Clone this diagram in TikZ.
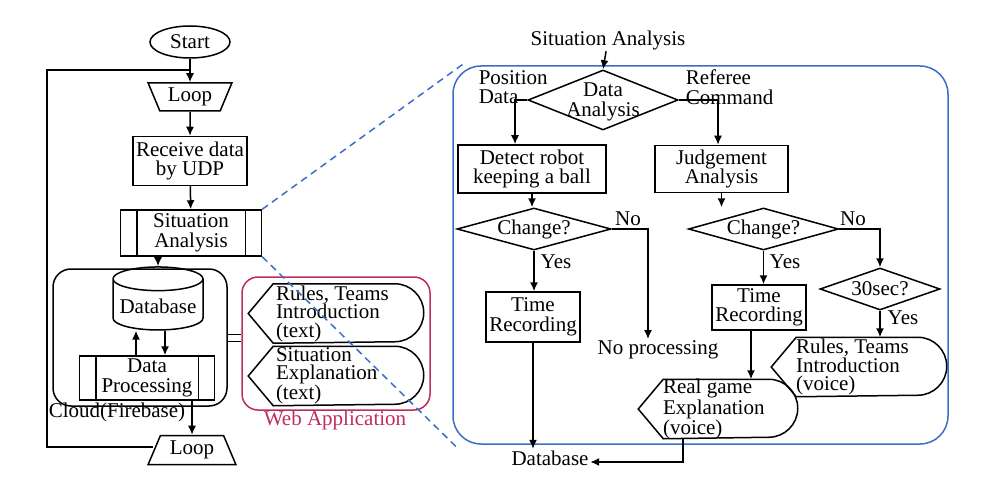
\documentclass[tikz,border=0pt]{standalone}
\usepackage{fontspec}
\setmainfont{Liberation Serif}
\usetikzlibrary{shapes.geometric,arrows.meta}
\definecolor{webc}{RGB}{190,45,95}
\definecolor{bluec}{RGB}{60,110,200}
\begin{document}
\begin{tikzpicture}[x=1pt,y=-1pt,line width=1.5pt,
  every node/.style={font=\fontsize{21}{19.5}\selectfont,inner sep=1pt},
  box/.style={draw,align=center,minimum width=#1},
  dia/.style={draw,diamond,aspect=3.6,inner sep=0pt},
  trap/.style={draw,trapezium,trapezium stretches=true,trapezium angle=66,minimum height=28,minimum width=84},
  arr/.style={-{Latex[length=9pt,width=8pt]}},
  dtxt/.style={anchor=west,align=left,font=\fontsize{21}{18.5}\selectfont}]
\useasboundingbox (0,0) rectangle (988,492);
% left column
\node[draw,ellipse,minimum width=80,minimum height=32] (start) at (190,42) {Start};
\node[trap,shape border rotate=180] (loop1) at (190,97) {Loop};
\node[box=114,minimum height=49] (recv) at (190,161) {Receive data\\by UDP};
\node[box=141,minimum height=46] (sa) at (191,233) {Situation\\Analysis};
\draw ([xshift=17]sa.north west) -- ([xshift=17]sa.south west);
\draw ([xshift=-17]sa.north east) -- ([xshift=-17]sa.south east);
\node[draw,rounded corners=18,minimum width=174,minimum height=137] (cloud) at (140,337.5) {};
\node[draw,cylinder,shape border rotate=90,aspect=0.3,minimum width=90,minimum height=63] (db) at (158,306) {Database};
\node[box=135,minimum height=44] (dp) at (147,378) {Data\\Processing};
\draw ([xshift=17]dp.north west) -- ([xshift=17]dp.south west);
\draw ([xshift=-17]dp.north east) -- ([xshift=-17]dp.south east);
\node[anchor=west] (cfb) at (47,412) {Cloud(Firebase)};
\node[trap,minimum width=88,minimum height=29] (loop2) at (192,450) {Loop};
\coordinate (top) at (190,70);
\coordinate (lb) at (47,447);
\coordinate (lt) at (47,70);
\draw[arr] (start) -- (loop1);
\draw[arr] (loop1) -- (recv);
\draw[arr] (recv) -- (sa);
\draw[arr] (sa.south -| db.north) -- (db.north);
\draw[arr] ([xshift=-11]dp.north) -- ([xshift=-11]dp.north |- db.south);
\draw[arr] ([xshift=18]dp.north |- db.south) -- ([xshift=18]dp.north);
\draw[arr] (dp.south -| loop2.north) -- (loop2.north);
\draw (loop2.west |- lb) -- (lb) -- (lt) -- (top);
% web app
\node[draw=webc,rounded corners=16,minimum width=188,minimum height=133] (web) at (336,343.5) {};
\node[text=webc] (wal) at (335,420) {Web Application};
\draw ([yshift=-4]cloud.east) -- ([yshift=-4]cloud.east -| web.west);
\draw ([yshift=3]cloud.east) -- ([yshift=3]cloud.east -| web.west);
\newcommand\dispshape[1]{\draw (#1.west) -- ([xshift=25]#1.north west) -- ([xshift=-29]#1.north east) arc[start angle=-90,end angle=90,radius=29] -- ([xshift=25]#1.south west) -- cycle;}
\node[minimum width=174,minimum height=58] (rt) at (336,313.5) {};
\dispshape{rt}
\node[dtxt] (rtt) at ([xshift=26]rt.west) {Rules, Teams\\Introduction\\(text)};
\node[minimum width=174,minimum height=58] (se) at (336,376) {};
\dispshape{se}
\node[dtxt] (set) at ([xshift=26]se.west) {Situation\\Explanation\\(text)};
% big rect
\node[draw=bluec,rounded corners=28,minimum width=495,minimum height=378] (big) at (700.5,255) {};
\draw[bluec,dash pattern=on 7pt off 5pt,line width=1.5pt] (sa.north east) -- ([xshift=12,yshift=2]big.north west);
\draw[bluec,dash pattern=on 7pt off 5pt,line width=1.5pt] (sa.south east) -- ([xshift=6,yshift=-4]big.south west);
\node (sat) at (608,40) {Situation Analysis};
\node[dia,minimum width=150,minimum height=60] (da) at (603,100) {};
\node[align=center] (dat) at (603,102) {Data\\Analysis};
\node[align=left,anchor=west] (pd) at (477,87) {Position\\Data};
\node[align=left,anchor=west] (rc) at (684,87) {Referee\\Command};
\node[box=148,minimum height=48] (det) at (532,169) {Detect robot\\keeping a ball};
\node[box=133,minimum height=47] (jud) at (721.5,169) {Judgement\\Analysis};
\draw[arr] (sat) -- (da.north);
\draw[arr] (da.west) -| (det.north -| 515,0);
\draw[arr] (da.east) -| (jud.north -| 718,0);
\node[dia,minimum width=154,minimum height=42] (c1) at (534,229) {Change?};
\node[dia,minimum width=150,minimum height=42] (c2) at (763.5,229) {Change?};
\draw[arr] (det) -- (det.south |- c1.north);
\draw[arr] (jud) -- (jud.south |- c2.north);
\node (no1) at (628,219) {No};
\node (np) at (658,350) {No processing};
\draw[arr] (c1.east) -| ([xshift=-10]np.north);
\node[box=94,minimum height=50] (tr1) at (533,317) {Time\\Recording};
\draw[arr] (c1.south) -- (tr1.north -| c1.south);
\node (y1) at (556,262) {Yes};
\node (dbt) at (550,458) {Database};
\draw[arr] (tr1.south) -- (tr1.south |- dbt.north);
\node (no2) at (853,219) {No};
\node[dia,minimum width=120,minimum height=42] (s30) at (880,289) {30sec?};
\draw[arr] (c2.east) -| (s30.north);
\node (y2) at (785,262) {Yes};
\node[box=94,minimum height=45] (tr2) at (759,307.5) {Time\\Recording};
\draw[arr] (c2.south) -- (tr2.north -| c2.south);
\node[minimum width=158,minimum height=58] (rg) at (718,409) {};
\dispshape{rg}
\node[dtxt] (rgt) at ([xshift=23]rg.west) {Real game\\Explanation\\(voice)};
\node[minimum width=174,minimum height=58] (rv) at (859,367) {};
\dispshape{rv}
\node[dtxt] (rvt) at ([xshift=23]rv.west) {Rules, Teams\\Introduction\\(voice)};
\node (y3) at (903,318) {Yes};
\draw[arr] (tr2.south -| 751,0) -- (rg.north -| 751,0);
\draw[arr] (s30.south) -- (rv.north -| s30.south);
\draw[arr] (rg.south -| 683,0) |- (dbt.east |- 0,462);
\end{tikzpicture}
\end{document}
